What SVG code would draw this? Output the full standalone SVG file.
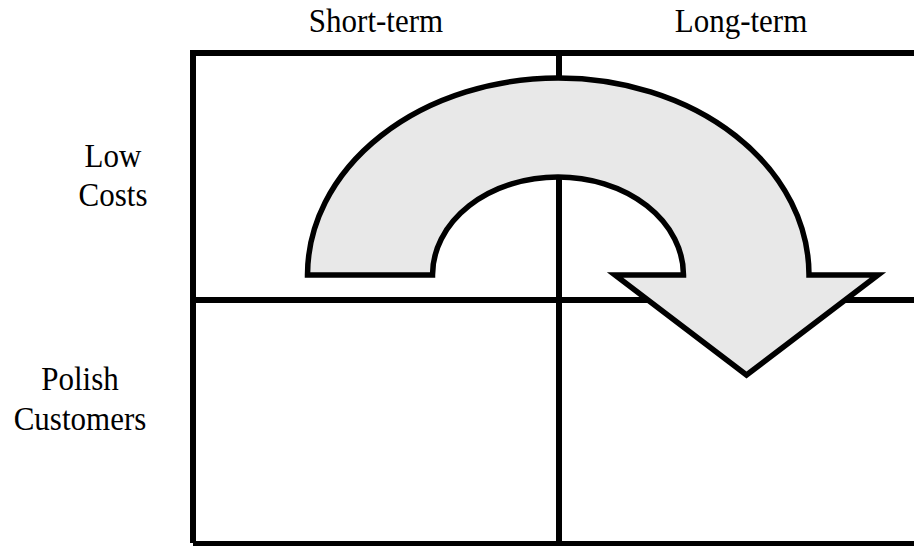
<svg xmlns="http://www.w3.org/2000/svg" width="914" height="546" viewBox="0 0 914 546">
  <style>
    .lbl { font-family: "Liberation Serif", "Times New Roman", serif; font-size: 31px; fill: #000; text-anchor: middle; }
    .grid { stroke: #000; stroke-width: 6; fill: none; }
    .arrow { fill: #e8e8e8; stroke: #000; stroke-width: 5.5; stroke-linejoin: miter; }
  </style>
  <rect width="914" height="546" fill="#fff"/>
  <g id="grid">
    <path class="grid" d="M193,543 V53 H920 M559,53 V546 M193,300 H920 M193,544 H920"/>
  </g>
  <g id="labels">
    <g transform="translate(376,32) scale(1,1.12)"><text class="lbl" x="0" y="0">Short-term</text></g>
    <g transform="translate(741,32) scale(1,1.12)"><text class="lbl" x="0" y="0">Long-term</text></g>
    <g transform="translate(113,167) scale(1,1.12)"><text class="lbl" x="0" y="0">Low</text></g>
    <g transform="translate(113,206) scale(1,1.12)"><text class="lbl" x="0" y="0">Costs</text></g>
    <g transform="translate(80,390) scale(1,1.12)"><text class="lbl" x="0" y="0">Polish</text></g>
    <g transform="translate(80,430) scale(1,1.12)"><text class="lbl" x="0" y="0">Customers</text></g>
  </g>
  <g id="arrow">
    <path class="arrow" d="M307.5,275 A250.75,197 0 0 1 809,275 L878,275 L746.5,375 L615,275 L683.5,275 A125.5,98 0 0 0 432.5,275 Z"/>
  </g>
</svg>
